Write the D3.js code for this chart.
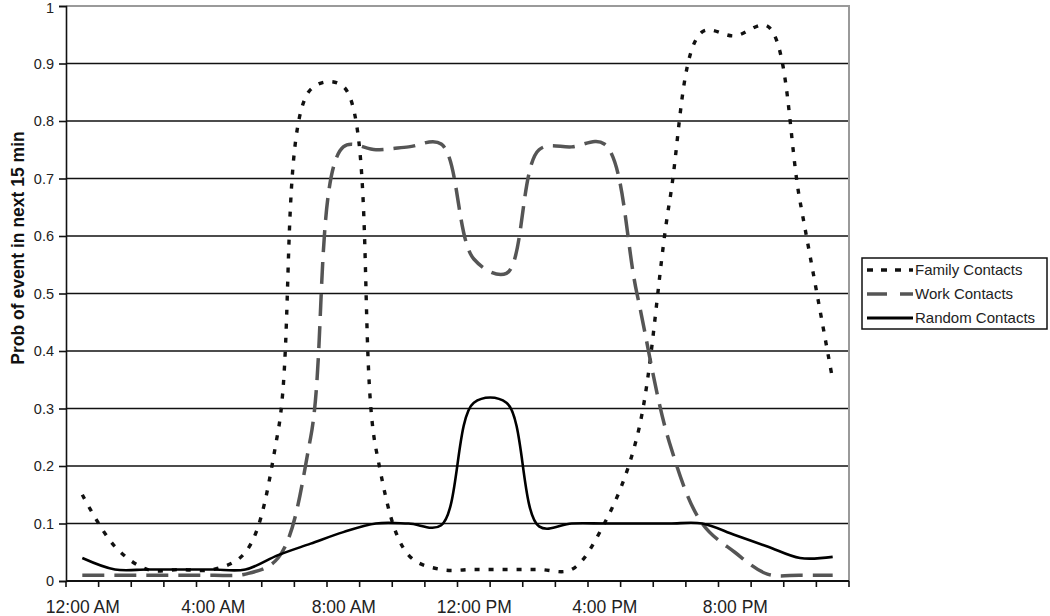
<!DOCTYPE html>
<html>
<head>
<meta charset="utf-8">
<script src="https://cdn.jsdelivr.net/npm/d3@7/dist/d3.min.js"></script>
<style>
  html, body { margin: 0; padding: 0; background: #fff; }
  svg { display: block; font-family: "Liberation Sans", Arial, sans-serif; }
</style>
</head>
<body>
<svg id="chart" width="1050" height="616"></svg>
<script>
// ---- data ----
const hours = ["12:00 AM","1:00 AM","2:00 AM","3:00 AM","4:00 AM","5:00 AM","6:00 AM","7:00 AM",
  "8:00 AM","9:00 AM","10:00 AM","11:00 AM","12:00 PM","1:00 PM","2:00 PM","3:00 PM",
  "4:00 PM","5:00 PM","6:00 PM","7:00 PM","8:00 PM","9:00 PM","10:00 PM","11:00 PM"];
const shownLabels = ["12:00 AM","4:00 AM","8:00 AM","12:00 PM","4:00 PM","8:00 PM"];
const yTicks = [0,0.1,0.2,0.3,0.4,0.5,0.6,0.7,0.8,0.9,1];
const familyValues = [0.15,0.06,0.02,0.02,0.02,0.05,0.26,0.855,0.86,0.23,0.045,0.02,
  0.02,0.02,0.02,0.02,0.10,0.25,0.66,0.955,0.948,0.965,0.66,0.35];
const workValues = [0.01,0.01,0.01,0.01,0.01,0.012,0.04,0.25,0.755,0.75,0.755,0.76,
  0.56,0.535,0.75,0.755,0.76,0.50,0.24,0.10,0.05,0.012,0.01,0.01];
const randomValues = [0.04,0.02,0.02,0.02,0.02,0.02,0.045,0.065,0.085,0.10,0.10,0.097,
  0.31,0.31,0.095,0.10,0.10,0.10,0.10,0.10,0.08,0.06,0.04,0.042];
const seriesNames = ["Family Contacts","Work Contacts","Random Contacts"];

// ---- layout ----
const svg = d3.select("#chart");
const L = 66, R = 849, T = 6, B = 581;

const xBand = d3.scaleBand().domain(hours).range([L, R]).padding(0);
const xPt = d3.scalePoint().domain(hours).range([L, R]).padding(0.5);
const y = d3.scaleLinear().domain([0, 1]).range([B, T]);

// gridlines
svg.append("g").selectAll("line").data(yTicks.filter(v => v > 0 && v < 1)).join("line")
  .attr("x1", L).attr("x2", R).attr("y1", d => y(d)).attr("y2", d => y(d))
  .attr("stroke", "#111").attr("stroke-width", 1.6);
// plot-area border top & right (gray)
svg.append("path")
  .attr("d", `M${L},${y(1)}H${R}V${B}`)
  .attr("fill", "none").attr("stroke", "#9a9a9a").attr("stroke-width", 2);

// y axis
const yAxis = d3.axisLeft(y).tickValues(yTicks)
  .tickFormat(d => d === 0 ? "0" : d === 1 ? "1" : d3.format(".1f")(d))
  .tickSize(7).tickPadding(5);
const gy = svg.append("g").attr("transform", `translate(${L},0)`).call(yAxis);
gy.select(".domain").attr("stroke", "#111").attr("stroke-width", 1.6);
gy.selectAll(".tick line").attr("stroke", "#111").attr("stroke-width", 1.6);
gy.selectAll(".tick text").attr("font-size", 14.5).attr("fill", "#222")
  .attr("font-family", "'Liberation Sans', Arial, sans-serif")
  .attr("y", d => d === 1 ? 1.5 : 0);

// x axis line
svg.append("line").attr("x1", L).attr("x2", R).attr("y1", B).attr("y2", B)
  .attr("stroke", "#111").attr("stroke-width", 1.8);
// x tick marks at category boundaries
const boundaries = hours.map(h => xBand(h)).concat([R]);
svg.append("g").selectAll("line").data(boundaries).join("line")
  .attr("x1", d => d).attr("x2", d => d).attr("y1", B).attr("y2", B + 6)
  .attr("stroke", "#111").attr("stroke-width", 1.6);
// x labels
const xAxis = d3.axisBottom(xPt).tickValues(shownLabels).tickSize(0).tickPadding(20);
const gx = svg.append("g").attr("transform", `translate(0,${B})`).call(xAxis);
gx.select(".domain").remove();
gx.selectAll(".tick text").attr("font-size", 17.5).attr("fill", "#222")
  .attr("font-family", "'Liberation Sans', Arial, sans-serif");

// y title
svg.append("text")
  .attr("transform", `translate(24,248) rotate(-90)`)
  .attr("text-anchor", "middle")
  .attr("font-size", 17.5).attr("font-weight", "bold").attr("fill", "#111")
  .text("Prob of event in next 15 min");

// lines
const line = d3.line()
  .x((d, i) => xPt(hours[i]))
  .y(d => y(d))
  .curve(d3.curveCatmullRom.alpha(0.5));

const styles = [
  {stroke: "#111", width: 3.4, dash: "5,9"},
  {stroke: "#555", width: 3.5, dash: "22,10"},
  {stroke: "#000", width: 2.6, dash: null}
];
const allSeries = [familyValues, workValues, randomValues];

svg.append("g").selectAll("path").data(allSeries).join("path")
  .attr("d", d => line(d))
  .attr("fill", "none")
  .attr("stroke", (d, i) => styles[i].stroke)
  .attr("stroke-width", (d, i) => styles[i].width)
  .attr("stroke-dasharray", (d, i) => styles[i].dash);

// legend
const lg = svg.append("g");
lg.append("rect").attr("x", 862).attr("y", 258).attr("width", 185).attr("height", 71)
  .attr("fill", "#fff").attr("stroke", "#111").attr("stroke-width", 1.5);
const legendY = [270, 294, 318];
const legendStyles = [
  {stroke: "#111", width: 3.4, dash: "6,8"},
  {stroke: "#555", width: 3.5, dash: "20,13"},
  {stroke: "#000", width: 3, dash: null}
];
seriesNames.forEach((name, i) => {
  lg.append("line").attr("x1", 867).attr("x2", 913)
    .attr("y1", legendY[i]).attr("y2", legendY[i])
    .attr("stroke", legendStyles[i].stroke).attr("stroke-width", legendStyles[i].width)
    .attr("stroke-dasharray", legendStyles[i].dash);
  lg.append("text").attr("x", 915).attr("y", legendY[i]).attr("dy", "0.35em")
    .attr("font-size", 15).attr("fill", "#222").text(name);
});
</script>
</body>
</html>
